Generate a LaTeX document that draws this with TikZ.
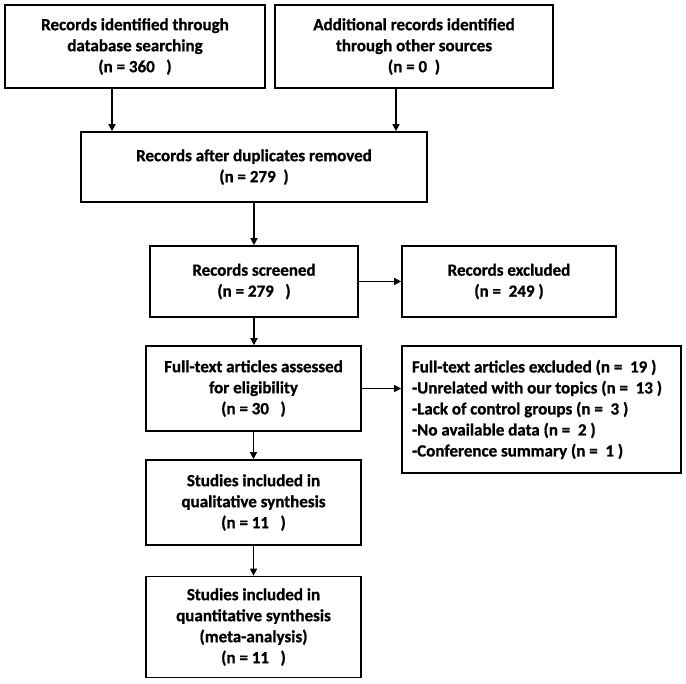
\documentclass[tikz,border=0pt]{standalone}
\usepackage{fontspec}
\setmainfont{Carlito}[WordSpace=1.0, BoldFeatures={FakeBold=0.9}]
\usetikzlibrary{arrows.meta}
\begin{document}
\begin{tikzpicture}[x=1pt,y=-1pt,
  box/.style={draw=black, line width=1.7pt, inner sep=0pt, align=center,
    font=\fontsize{17}{21}\selectfont\bfseries},
  arr/.style={line width=1.4pt, -{Triangle[length=7pt,width=7pt]}}]
\useasboundingbox[fill=white] (0,0) rectangle (686,684);
\node[box, minimum width=260, minimum height=83] (b1) at (135,46.5)
  {Records identified through\\database searching\\(n = 360\ \ \ )};
\node[box, minimum width=278, minimum height=83] (b2) at (414,46.5)
  {Additional records identified\\through other sources\\(n = 0\ \ )};
\node[box, minimum width=346, minimum height=70] (b3) at (254,167)
  {Records after duplicates removed\\(n = 279\ \ )};
\node[box, minimum width=208, minimum height=71] (b4) at (254,281.5)
  {Records screened\\(n = 279\ \ \ )};
\node[box, minimum width=214, minimum height=71] (b5) at (509,281.5)
  {Records excluded\\(n =\ \ 249\ )};
\node[box, minimum width=215, minimum height=85] (b6) at (253.5,388.5)
  {Full-text articles assessed\\for eligibility\\(n = 30\ \ \ )};
\node[box, minimum width=279, minimum height=127, align=left, text width=259] (b7) at (541.5,409.5)
  {\spaceskip=0pt\xspaceskip=0pt Full-text articles excluded (n =\ \ 19 )\\-Unrelated with our topics (n =\ \ 13 )\\-Lack of control groups (n =\ \ 3 )\\-No available data (n =\ \ 2 )\\-Conference summary (n =\ \ 1 )};
\node[box, minimum width=215, minimum height=85] (b8) at (253.5,502.5)
  {Studies included in\\qualitative synthesis\\(n = 11\ \ \ )};
\node[box, minimum width=215, minimum height=101] (b9) at (253.5,627)
  {Studies included in\\quantitative synthesis\\(meta-analysis)\\(n = 11\ \ \ )};
\draw[arr] ([xshift=-23]b1.south) -- ([xshift=-23]b1.south |- b3.north);
\draw[arr] ([xshift=-18]b2.south) -- ([xshift=-18]b2.south |- b3.north);
\draw[arr] (b3.south) -- (b4.north);
\draw[arr] (b4.south) -- (b4.south |- b6.north);
\draw[arr] (b4.east) -- (b5.west);
\draw[arr] (b6.east) -- (b6.east -| b7.west);
\draw[arr] (b6.south) -- (b8.north);
\draw[arr] (b8.south) -- (b9.north);
\end{tikzpicture}
\end{document}
